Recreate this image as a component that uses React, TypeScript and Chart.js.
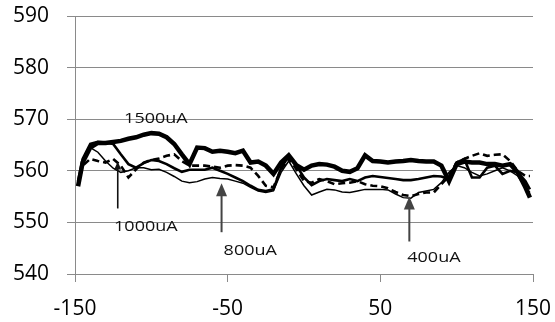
import React, { useEffect, useRef } from "react";
import { Chart, registerables } from "chart.js";

Chart.register(...registerables);

const X_VALUES = [
  -148, -145, -140, -135, -130, -125, -120, -115, -110, -105, -100, -95, -90, -85, -80, -75, -70, -65, -60, -55, -50,
  -45, -40, -35, -30, -25, -20, -15, -10, -5, 0, 5, 10, 15, 20, 25, 30, 35, 40, 45, 50, 55, 60, 65, 70, 75, 80, 85,
  90, 95, 100, 105, 110, 115, 120, 125, 130, 135, 140, 145, 148,
];

const S1500 = [
  557, 561.6, 564.5, 565.4, 565.4, 565.6, 565.8, 566.2, 566.5, 567, 567.3, 567.2, 566.5, 565.2, 563.2, 561.3, 564.5,
  564.4, 563.7, 563.9, 563.7, 563.4, 563.9, 561.6, 561.8, 561, 559.4, 561.6, 563, 561.1, 560.2, 561, 561.3, 561.2,
  560.8, 560, 559.8, 560.5, 563, 561.9, 561.8, 561.6, 561.8, 561.9, 562.1, 561.9, 561.8, 561.8, 561, 558, 561.3, 561.8,
  561.6, 561.6, 561.3, 561.3, 561, 561.3, 559.7, 556.8, 554.8,
];

const S1000 = [
  558, 562.3, 565.2, 565.6, 565.5, 565.2, 563.2, 561.3, 560.6, 561.5, 562.1, 561.9, 561.3, 560.5, 559.8, 560.2, 560.2,
  560.2, 560.6, 560, 559.4, 558.7, 558, 557.1, 556.3, 556.1, 556.4, 560.6, 562.8, 561, 558.7, 557.2, 558, 558.4, 558.2,
  558, 558.4, 558, 558.7, 559, 558.8, 558.6, 558.4, 558.2, 558.2, 558.4, 558.7, 559, 558.9, 558.4, 561.6, 562.3, 558.7,
  558.7, 560.6, 561, 559.4, 560, 559.7, 558, 556.4,
];

const S800 = [
  557.1, 561, 562.3, 561.9, 561.6, 562.3, 561, 558.7, 560.3, 561.6, 562.1, 562.4, 562.9, 563.2, 561.9, 561, 561, 561,
  560.8, 560.6, 561, 561.1, 561, 560.6, 559, 557.1, 556.8, 560.3, 562.4, 560.3, 558, 557.7, 558.4, 558, 557.4, 557.6,
  557.7, 558, 557.4, 557.1, 557, 556.6, 555.9, 555.3, 555.1, 555.5, 555.8, 555.8, 557.4, 559, 561.6, 562.3, 562.9,
  563.4, 562.9, 563.1, 563.2, 561.9, 560, 559, 559,
];

const S400 = [
  557.7, 561.6, 564.5, 563.6, 561.9, 560.5, 559.7, 560, 560.6, 560.6, 560.2, 560.3, 559.7, 558.9, 558, 557.7, 557.9,
  558.4, 558.7, 558.5, 558.4, 558, 557.6, 556.8, 556.1, 555.8, 556.1, 559.7, 561.9, 559.4, 557.1, 555.3, 555.9, 556.4,
  556.3, 555.9, 555.8, 556.1, 556.4, 556.4, 556.4, 556.3, 555.5, 554.8, 554.7, 555.8, 556.1, 556.4, 557.7, 559.7, 561,
  560.6, 559.7, 559, 559.4, 560, 560.6, 560, 559, 556.8, 555.8,
];

const LABELS = ["1500uA", "1000uA", "800uA", "400uA"];
const LABEL_X = [-97, -103.6, -35.2, 85.1];
const LABEL_Y = [570.1, 549.2, 544.5, 543.2];

const ARROW_X = [-122, -54, 69];
const ARROW_FROM_Y = [552.7, 548.1, 546.3];
const ARROW_TO_Y = [561.8, 557.6, 555];

const Y_TICKS = [540, 550, 560, 570, 580, 590];
const X_TICKS = [-150, -50, 50, 150];

const GRAY = "#8a8a8a";

const annotationPlugin = {
  id: "annotations",
  afterDatasetsDraw(chart: any) {
    const { ctx, scales } = chart;
    const xs = scales.x;
    const ys = scales.y;
    ctx.save();
    ARROW_X.forEach((ax, i) => {
      const px = xs.getPixelForValue(ax);
      const y0 = ys.getPixelForValue(ARROW_FROM_Y[i]);
      const y1 = ys.getPixelForValue(ARROW_TO_Y[i]);
      const small = i === 0;
      const color = small ? "#111" : "#444";
      const headH = small ? 8 : 13;
      const headW = small ? 3.5 : 5.5;
      ctx.strokeStyle = color;
      ctx.fillStyle = color;
      ctx.lineWidth = small ? 1.6 : 2;
      ctx.beginPath();
      ctx.moveTo(px, y0);
      ctx.lineTo(px, y1 + headH - 1);
      ctx.stroke();
      ctx.beginPath();
      ctx.moveTo(px, y1);
      ctx.lineTo(px - headW, y1 + headH);
      ctx.lineTo(px + headW, y1 + headH);
      ctx.closePath();
      ctx.fill();
    });
    ctx.fillStyle = "#111";
    ctx.font = "15px 'Open Sans'";
    ctx.textAlign = "center";
    ctx.textBaseline = "middle";
    LABELS.forEach((t, i) => {
      const px = xs.getPixelForValue(LABEL_X[i]);
      const py = ys.getPixelForValue(LABEL_Y[i]);
      ctx.save();
      ctx.translate(px, py);
      ctx.scale(1.2, 1);
      ctx.fillText(t, 0, 0);
      ctx.restore();
    });
    ctx.restore();
  },
};

export default function App() {
  const ref = useRef<HTMLCanvasElement | null>(null);
  useEffect(() => {
    if (!ref.current) return;
    const mk = (d: number[]) => X_VALUES.map((x, i) => ({ x, y: d[i] }));
    const chart = new Chart(ref.current, {
      type: "line",
      data: {
        datasets: [
          { label: "1500uA", data: mk(S1500), borderColor: "#000", borderWidth: 4.5, pointRadius: 0, tension: 0 },
          { label: "1000uA", data: mk(S1000), borderColor: "#000", borderWidth: 2.6, pointRadius: 0, tension: 0 },
          {
            label: "800uA",
            data: mk(S800),
            borderColor: "#000",
            borderWidth: 2.6,
            borderDash: [7, 4],
            pointRadius: 0,
            tension: 0,
          },
          { label: "400uA", data: mk(S400), borderColor: "#000", borderWidth: 1.5, pointRadius: 0, tension: 0 },
        ],
      },
      options: {
        animation: false,
        responsive: true,
        maintainAspectRatio: false,
        layout: { padding: { top: 16, right: 22, left: 0, bottom: 0 } },
        plugins: { legend: { display: false }, tooltip: { enabled: false } },
        scales: {
          x: {
            type: "linear",
            min: -150,
            max: 150,
            afterBuildTicks: (s: any) => {
              s.ticks = X_TICKS.map((v) => ({ value: v }));
            },
            afterFit: (s: any) => {
              s.height = 48;
              s.paddingLeft = 0;
              s.paddingRight = 0;
            },
            ticks: {
              font: { family: "'Open Sans'", size: 21 },
              color: "#000",
              padding: 14,
              maxRotation: 0,
              autoSkip: false,
            },
            grid: { drawOnChartArea: false, drawTicks: true, tickLength: 8, color: GRAY, lineWidth: 1 },
            border: { display: true, color: GRAY, width: 1 },
          },
          y: {
            min: 540,
            max: 590,
            afterBuildTicks: (s: any) => {
              s.ticks = Y_TICKS.map((v) => ({ value: v }));
            },
            afterFit: (s: any) => {
              s.width = 75;
              s.paddingTop = 0;
              s.paddingBottom = 0;
            },
            ticks: {
              font: { family: "'Open Sans'", size: 21 },
              color: "#000",
              padding: 18,
            },
            grid: { color: GRAY, lineWidth: 1, tickLength: 8, drawTicks: true },
            border: { display: true, color: GRAY, width: 1 },
          },
        },
      },
      plugins: [annotationPlugin],
    });
    return () => chart.destroy();
  }, []);
  return (
    <div style={{ position: "absolute", left: 0, top: 0, width: 555, height: 322, background: "#fff" }}>
      <canvas ref={ref} />
    </div>
  );
}
